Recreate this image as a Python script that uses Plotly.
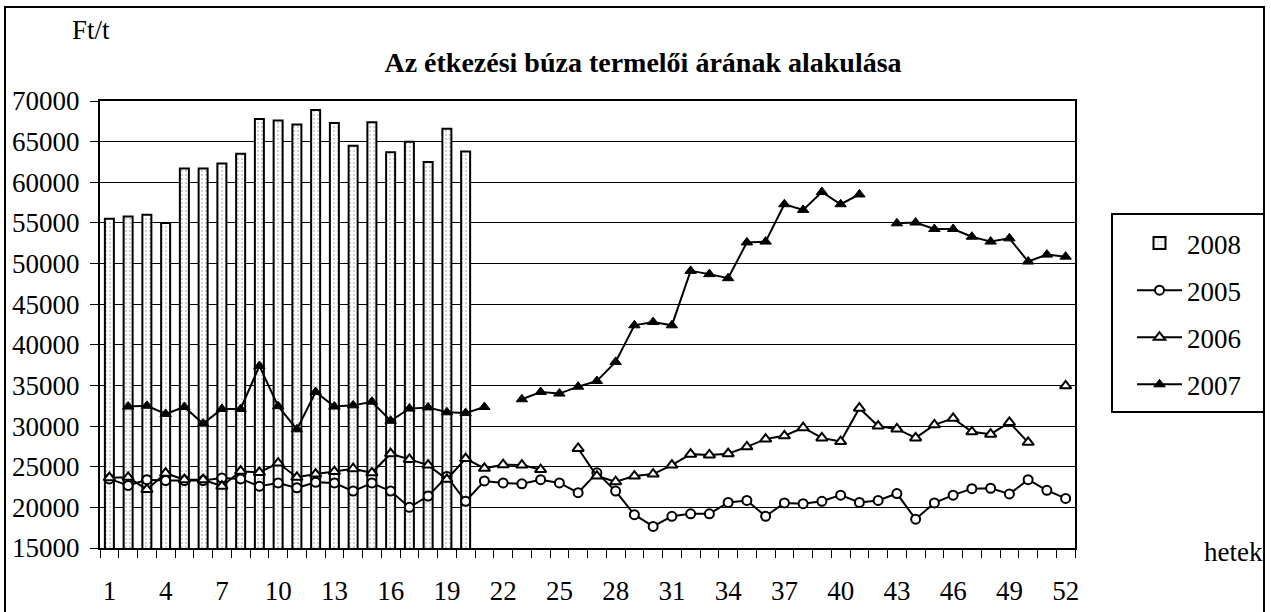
import plotly.graph_objects as go

weeks = list(range(1, 53))
bar_weeks = list(range(1, 21))
tick_labels = [str(w) for w in range(1, 53, 3)]

y2008 = [55500, 55800, 56000, 55000, 61700, 61700, 62300, 63500, 67800, 67600,
         67100, 68900, 67300, 64500, 67400, 63700, 65000, 62500, 66600, 63800]

y2005 = [23500, 22700, 23400, 23300, 23300, 23300, 23600, 23500, 22600, 23000,
         22400, 23100, 23000, 22000, 23000, 22000, 20000, 21400, 23800, 20750,
         23250, 23000, 22900, 23400, 23000, 21800, 24250, 22000, 19100, 17650,
         18900, 19200, 19200, 20600, 20850, 18900, 20550, 20450, 20750, 21500,
         20600, 20850, 21700, 18550, 20550, 21500, 22300, 22350, 21650, 23400,
         22100, 21100]

y2006 = [23650, 23700, 22200, 24200, 23400, 23400, 22600, 24450, 24300, 25450,
         23700, 24100, 24400, 24750, 24250, 26600, 25900, 25200, 23450, 26000,
         24800, 25250, 25200, 24650, None, 27250, 23850, 23150, 23850, 24100,
         25200, 26550, 26450, 26600, 27450, 28400, 28800, 29800, 28550, 28100,
         32200, 30000, 29650, 28550, 30150, 30950, 29300, 29000, 30450, 28000,
         None, 34950]

y2007 = [None, 32400, 32500, 31500, 32350, 30300, 32100, 32100, 37400, 32450,
         29600, 34200, 32400, 32550, 33000, 30650, 32150, 32300, 31700, 31600,
         32350, None, 33300, 34200, 34000, 34850, 35550, 37900, 42400, 42800,
         42400, 49100, 48700, 48200, 52600, 52700, 57300, 56600, 58800, 57300,
         58500, None, 54950, 55050, 54250, 54250, 53300, 52700, 53100, 50250,
         51100, 50850]

FONT = "Liberation Serif, Times New Roman, serif"
FS = 27

fig = go.Figure()
fig.add_trace(go.Bar(
    x=bar_weeks, y=y2008, name="2008", width=0.48, legendgroup="a",
    marker=dict(color="white", line=dict(color="black", width=2),
                pattern=dict(shape=".", fgcolor="#888888", bgcolor="white",
                             size=4, solidity=0.2)),
))
line_style = dict(color="black", width=2)
fig.add_trace(go.Scatter(
    x=weeks, y=y2005, name="2005", mode="lines+markers", legendgroup="b",
    line=line_style, connectgaps=False,
    marker=dict(symbol="circle", size=9, color="white",
                line=dict(color="black", width=2)),
))
fig.add_trace(go.Scatter(
    x=weeks, y=y2006, name="2006", mode="lines+markers", legendgroup="c",
    line=line_style, connectgaps=False,
    marker=dict(symbol="triangle-up", size=10, color="white",
                line=dict(color="black", width=2)),
))
fig.add_trace(go.Scatter(
    x=weeks, y=y2007, name="2007", mode="lines+markers", legendgroup="d",
    line=line_style, connectgaps=False,
    marker=dict(symbol="triangle-up", size=10, color="black",
                line=dict(color="black", width=1)),
))

L, R, T, B = 100, 196, 101, 64
PW, PH = 1271 - L - R, 612 - T - B


def px(xpix):
    return (xpix - L) / PW


def py(ypix):
    return (612 - B - ypix) / PH


fig.update_layout(
    width=1271, height=612,
    margin=dict(l=L, r=R, t=T, b=B, autoexpand=False),
    paper_bgcolor="white", plot_bgcolor="white",
    font=dict(family=FONT, size=FS, color="black"),
    title=dict(text="<b>Az étkezési búza termelői árának alakulása</b>",
               x=643 / 1271, xanchor="center", y=1 - 62 / 612, yanchor="middle",
               font=dict(family=FONT, size=28, color="black")),
    barmode="overlay",
    showlegend=True,
    legend=dict(x=px(1132), y=py(219), xanchor="left", yanchor="top",
                bgcolor="rgba(0,0,0,0)", borderwidth=0,
                font=dict(family=FONT, size=FS), tracegroupgap=9,
                itemwidth=45, traceorder="grouped"),
    xaxis=dict(range=[0.5, 52.5], tickmode="array",
               tickvals=list(range(1, 53, 3)), ticktext=tick_labels,
               ticks="", showgrid=False, zeroline=False, automargin=False,
               showline=True, linecolor="black", linewidth=2, mirror=True,
               ticklabelstandoff=18,
               minor=dict(tick0=0.5, dtick=1, ticks="outside", ticklen=8,
                          tickcolor="black", tickwidth=1, showgrid=False),
               tickfont=dict(family=FONT, size=FS)),
    yaxis=dict(range=[15000, 70000], dtick=5000, tick0=15000, tickformat="d",
               ticks="outside", ticklen=8, tickcolor="black", tickwidth=1,
               showgrid=True, gridcolor="black", gridwidth=1, zeroline=False,
               automargin=False,
               showline=True, linecolor="black", linewidth=2, mirror=True,
               ticklabelstandoff=5,
               tickfont=dict(family=FONT, size=FS)),
    shapes=[
        dict(type="rect", xref="paper", yref="paper",
             x0=px(5), x1=px(1264), y0=py(616), y1=py(7),
             line=dict(color="black", width=2), fillcolor="rgba(0,0,0,0)",
             layer="below"),
        dict(type="rect", xref="paper", yref="paper",
             x0=px(1112), x1=px(1264), y0=py(412), y1=py(214),
             line=dict(color="black", width=2), fillcolor="white",
             layer="below"),
    ],
    annotations=[
        dict(text="Ft/t", xref="paper", yref="paper", x=px(91), y=py(30),
             xanchor="center", yanchor="middle", showarrow=False,
             font=dict(family=FONT, size=FS)),
        dict(text="hetek", xref="paper", yref="paper", x=px(1233), y=py(552),
             xanchor="center", yanchor="middle", showarrow=False,
             font=dict(family=FONT, size=FS)),
    ],
)

fig.write_html("out.html",
               config={"displayModeBar": False},
               post_script="document.body.style.margin='0px';"
                           "document.body.style.overflow='hidden';")
